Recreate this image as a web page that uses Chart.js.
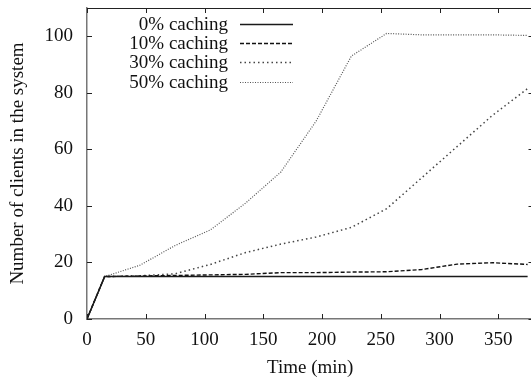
<!DOCTYPE html>
<html>
<head>
<meta charset="utf-8">
<script src="https://cdn.jsdelivr.net/npm/chart.js@4/dist/chart.umd.min.js"></script>
<style>
html,body{margin:0;padding:0;background:#fff;overflow:hidden;}
#wrap{width:538px;height:381px;position:relative;}
</style>
</head>
<body>
<div id="wrap"><canvas id="c"></canvas></div>
<script>
const time    = [0, 15, 45, 75, 105, 135, 165, 195, 225, 255, 285, 315, 345, 375];
const cache0  = [0, 15, 15, 15, 15, 15, 15, 15, 15, 15, 15, 15, 15, 15];
const cache10 = [0, 15, 15.2, 15.4, 15.6, 15.8, 16.4, 16.4, 16.6, 16.7, 17.5, 19.4, 19.9, 19.3];
const cache30 = [0, 15, 15.3, 16, 19.3, 23.5, 26.5, 29, 32.4, 39, 50, 61, 72, 81.5];
const cache50 = [0, 15, 19, 26, 31.5, 41, 52, 70, 93, 101, 100.5, 100.5, 100.5, 100.3];
const seriesNames = ['0% caching', '10% caching', '30% caching', '50% caching'];
const xTicks = [0, 50, 100, 150, 200, 250, 300, 350];
const yTicks = [0, 20, 40, 60, 80, 100];

const FONT = "'Liberation Serif', 'Times New Roman', serif";
const FS = 19;
const pts = arr => time.map((t, i) => ({x: t, y: arr[i]}));

const styles = [
  {borderColor: '#1a1a1a', borderWidth: 1.5, borderDash: []},
  {borderColor: '#111111', borderWidth: 1.4, borderDash: [4, 2]},
  {borderColor: '#444444', borderWidth: 1.5, borderDash: [1.5, 3]},
  {borderColor: '#555555', borderWidth: 1.2, borderDash: [1, 1.5]}
];
const allData = [cache0, cache10, cache30, cache50];

const datasets = allData.map((d, i) => Object.assign({
  label: seriesNames[i],
  data: pts(d),
  pointRadius: 0,
  tension: 0,
  fill: false
}, styles[i]));

const frame = {
  id: 'frame',
  afterDraw(chart) {
    const {ctx, chartArea: a, scales: {x, y}} = chart;
    ctx.save();
    ctx.strokeStyle = '#222';
    ctx.lineWidth = 1;
    ctx.beginPath();
    ctx.moveTo(a.left, a.top + 0.5); ctx.lineTo(a.right, a.top + 0.5);
    ctx.moveTo(a.right - 0.5, a.top); ctx.lineTo(a.right - 0.5, a.bottom);
    xTicks.forEach(v => {
      const px = Math.round(x.getPixelForValue(v)) + 0.5;
      ctx.moveTo(px, a.bottom); ctx.lineTo(px, a.bottom - 5);
      ctx.moveTo(px, a.top); ctx.lineTo(px, a.top + 5);
    });
    yTicks.forEach(v => {
      const py = Math.round(y.getPixelForValue(v)) + 0.5;
      ctx.moveTo(a.left, py); ctx.lineTo(a.left + 5, py);
      ctx.moveTo(a.right, py); ctx.lineTo(a.right - 5, py);
    });
    ctx.stroke();
    ctx.restore();
  }
};

const gnuLegend = {
  id: 'gnuLegend',
  afterDraw(chart) {
    const {ctx} = chart;
    ctx.save();
    ctx.font = FS + 'px ' + FONT;
    ctx.textAlign = 'right';
    ctx.textBaseline = 'middle';
    const textRight = 228, lx0 = 240, lx1 = 293, top = 24, step = 19.2;
    chart.data.datasets.forEach((ds, i) => {
      const yy = top + i * step;
      ctx.fillStyle = '#111';
      ctx.fillText(ds.label, textRight, yy + 1);
      ctx.strokeStyle = ds.borderColor;
      ctx.lineWidth = ds.borderWidth;
      ctx.setLineDash(ds.borderDash);
      ctx.beginPath();
      ctx.moveTo(lx0, Math.round(yy) + 0.5);
      ctx.lineTo(lx1, Math.round(yy) + 0.5);
      ctx.stroke();
    });
    ctx.restore();
  }
};

new Chart(document.getElementById('c'), {
  type: 'line',
  data: {datasets},
  plugins: [frame, gnuLegend],
  options: {
    responsive: true,
    maintainAspectRatio: false,
    animation: false,
    layout: {padding: {top: 8, right: 4.5, bottom: 0, left: 0}},
    plugins: {legend: {display: false}, tooltip: {enabled: false}},
    scales: {
      x: {
        type: 'linear',
        min: 0, max: 380,
        afterFit(s) { s.height = 62; s.paddingLeft = 0; s.paddingRight = 0; },
        afterBuildTicks(s) { s.ticks = xTicks.map(v => ({value: v})); },
        grid: {display: false, drawTicks: false},
        border: {display: true, color: '#777', width: 1.5},
        ticks: {padding: 10, color: '#111', font: {family: FONT, size: FS}, maxRotation: 0, autoSkip: false},
        title: {display: true, text: 'Time (min)', color: '#111', font: {family: FONT, size: FS}, padding: {top: 0, bottom: 2}}
      },
      y: {
        min: 0, max: 110,
        afterFit(s) { s.width = 87; s.paddingTop = 0; s.paddingBottom = 0; },
        afterBuildTicks(s) { s.ticks = yTicks.map(v => ({value: v})); },
        grid: {display: false, drawTicks: false},
        border: {display: true, color: '#777', width: 1.5},
        ticks: {padding: 14, color: '#111', font: {family: FONT, size: FS}},
        title: {display: true, text: 'Number of clients in the system', color: '#111', font: {family: FONT, size: FS}, padding: {top: 7, bottom: 0}}
      }
    }
  },
});
</script>
</body>
</html>
